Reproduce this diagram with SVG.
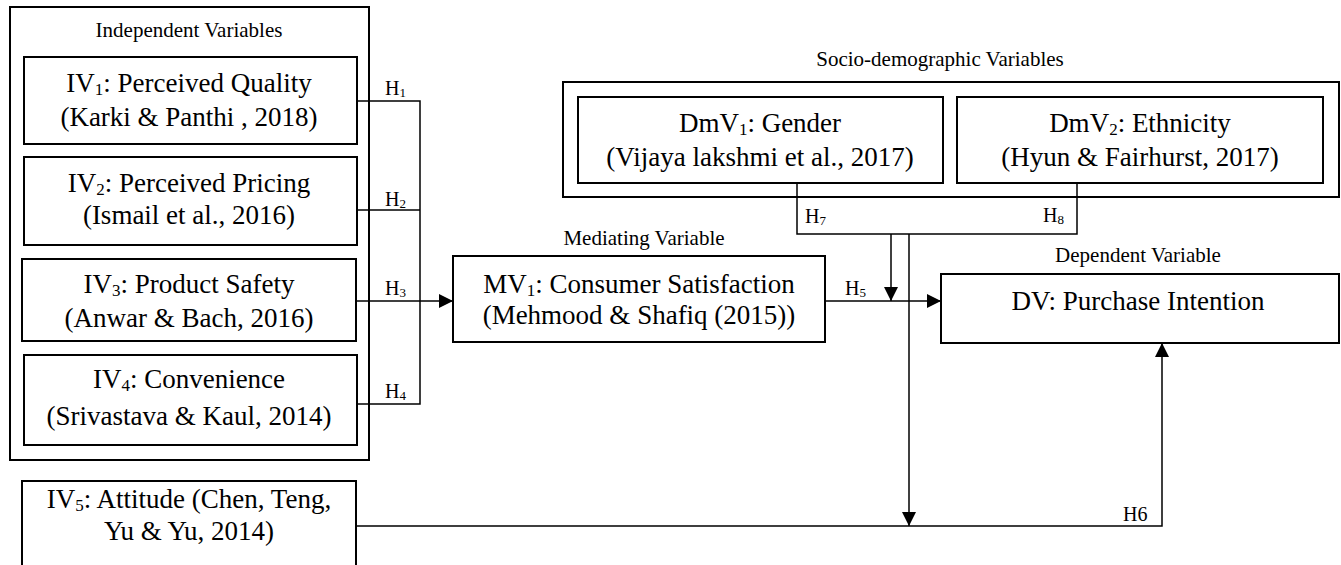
<svg xmlns="http://www.w3.org/2000/svg" width="1341" height="565" viewBox="0 0 1341 565">
  <style>
    .box { fill: #fff; stroke: #000; stroke-width: 2; }
    .frame { fill: none; stroke: #000; stroke-width: 2; }
    .main { font-family: "Liberation Serif", "Times New Roman", serif; font-size: 27px; fill: #000; text-anchor: middle; }
    .cap { font-family: "Liberation Serif", "Times New Roman", serif; font-size: 21px; fill: #000; text-anchor: middle; }
    .hl { font-family: "Liberation Serif", "Times New Roman", serif; font-size: 20px; fill: #000; }
    .sub { font-size: 17px; }
    .hsub { font-size: 13px; }
    .wire { fill: none; stroke: #000; stroke-width: 1.5; }
  </style>
  <defs>
    <marker id="arrow" viewBox="0 0 14 14" refX="14" refY="7" markerWidth="14" markerHeight="14" markerUnits="userSpaceOnUse" orient="auto">
      <path d="M0,0 L14,7 L0,14 Z" fill="#000"/>
    </marker>
  </defs>

  <rect width="1341" height="565" fill="#fff"/>

  <!-- group frames -->
  <g id="independent-group">
    <rect class="frame" x="10" y="7" width="359" height="453"/>
    <text class="cap" x="189" y="37">Independent Variables</text>
  </g>
  <g id="sociodemographic-group">
    <rect class="frame" x="563" y="82" width="776" height="115"/>
    <text class="cap" x="940" y="66">Socio-demographic Variables</text>
  </g>

  <g id="iv1">
    <rect class="box" x="24" y="57" width="333" height="87"/>
    <text class="main" x="189" y="92">IV<tspan class="sub" dy="3">1</tspan><tspan dy="-3">: Perceived Quality</tspan></text>
    <text class="main" x="189" y="126">(Karki &amp; Panthi , 2018)</text>
  </g>
  <g id="iv2">
    <rect class="box" x="24" y="157" width="333" height="88"/>
    <text class="main" x="189" y="192">IV<tspan class="sub" dy="3">2</tspan><tspan dy="-3">: Perceived Pricing</tspan></text>
    <text class="main" x="189" y="224">(Ismail et al., 2016)</text>
  </g>
  <g id="iv3">
    <rect class="box" x="22" y="259" width="334" height="82"/>
    <text class="main" x="189" y="293">IV<tspan class="sub" dy="3">3</tspan><tspan dy="-3">: Product Safety</tspan></text>
    <text class="main" x="189" y="327">(Anwar &amp; Bach, 2016)</text>
  </g>
  <g id="iv4">
    <rect class="box" x="24" y="355" width="333" height="90"/>
    <text class="main" x="189" y="388">IV<tspan class="sub" dy="3">4</tspan><tspan dy="-3">: Convenience</tspan></text>
    <text class="main" x="189" y="425">(Srivastava &amp; Kaul, 2014)</text>
  </g>
  <g id="iv5">
    <rect class="box" x="22" y="481" width="334" height="90"/>
    <text class="main" x="189" y="508">IV<tspan class="sub" dy="3">5</tspan><tspan dy="-3">: Attitude (Chen, Teng,</tspan></text>
    <text class="main" x="189" y="540">Yu &amp; Yu, 2014)</text>
  </g>

  <g id="mv1">
    <text class="cap" x="644" y="245">Mediating Variable</text>
    <rect class="box" x="453" y="256" width="372" height="86"/>
    <text class="main" x="639" y="293">MV<tspan class="sub" dy="3">1</tspan><tspan dy="-3">: Consumer Satisfaction</tspan></text>
    <text class="main" x="639" y="324">(Mehmood &amp; Shafiq (2015))</text>
  </g>

  <g id="dmv1">
    <rect class="box" x="578" y="97" width="365" height="86"/>
    <text class="main" x="760" y="132">DmV<tspan class="sub" dy="3">1</tspan><tspan dy="-3">: Gender</tspan></text>
    <text class="main" x="760" y="166">(Vijaya lakshmi et al., 2017)</text>
  </g>
  <g id="dmv2">
    <rect class="box" x="957" y="97" width="366" height="86"/>
    <text class="main" x="1140" y="132">DmV<tspan class="sub" dy="3">2</tspan><tspan dy="-3">: Ethnicity</tspan></text>
    <text class="main" x="1140" y="166">(Hyun &amp; Fairhurst, 2017)</text>
  </g>

  <g id="dv">
    <text class="cap" x="1138" y="262">Dependent Variable</text>
    <rect class="box" x="941" y="274" width="398" height="69"/>
    <text class="main" x="1138" y="310">DV: Purchase Intention</text>
  </g>

  <g id="connectors">
    <path class="wire" d="M357,101 H420 V404 H357"/>
    <path class="wire" d="M357,210 H420"/>
    <path class="wire" d="M357,301 H453" marker-end="url(#arrow)"/>
    <path class="wire" d="M825,301 H941" marker-end="url(#arrow)"/>
    <path class="wire" d="M797,183 V234 H1077 V183"/>
    <path class="wire" d="M891,234 V301" marker-end="url(#arrow)"/>
    <path class="wire" d="M909,234 V526" marker-end="url(#arrow)"/>
    <path class="wire" d="M356,526 H1162 V343" stroke-width="2" marker-end="url(#arrow)"/>

    <text class="hl" x="385" y="95">H<tspan class="hsub" dy="2">1</tspan></text>
    <text class="hl" x="385" y="206">H<tspan class="hsub" dy="2">2</tspan></text>
    <text class="hl" x="385" y="295">H<tspan class="hsub" dy="2">3</tspan></text>
    <text class="hl" x="385" y="398">H<tspan class="hsub" dy="2">4</tspan></text>
    <text class="hl" x="845" y="295">H<tspan class="hsub" dy="2">5</tspan></text>
    <text class="hl" x="1123" y="521" font-size="21">H6</text>
    <text class="hl" x="805" y="223">H<tspan class="hsub" dy="2">7</tspan></text>
    <text class="hl" x="1043" y="222">H<tspan class="hsub" dy="2">8</tspan></text>
  </g>
</svg>
